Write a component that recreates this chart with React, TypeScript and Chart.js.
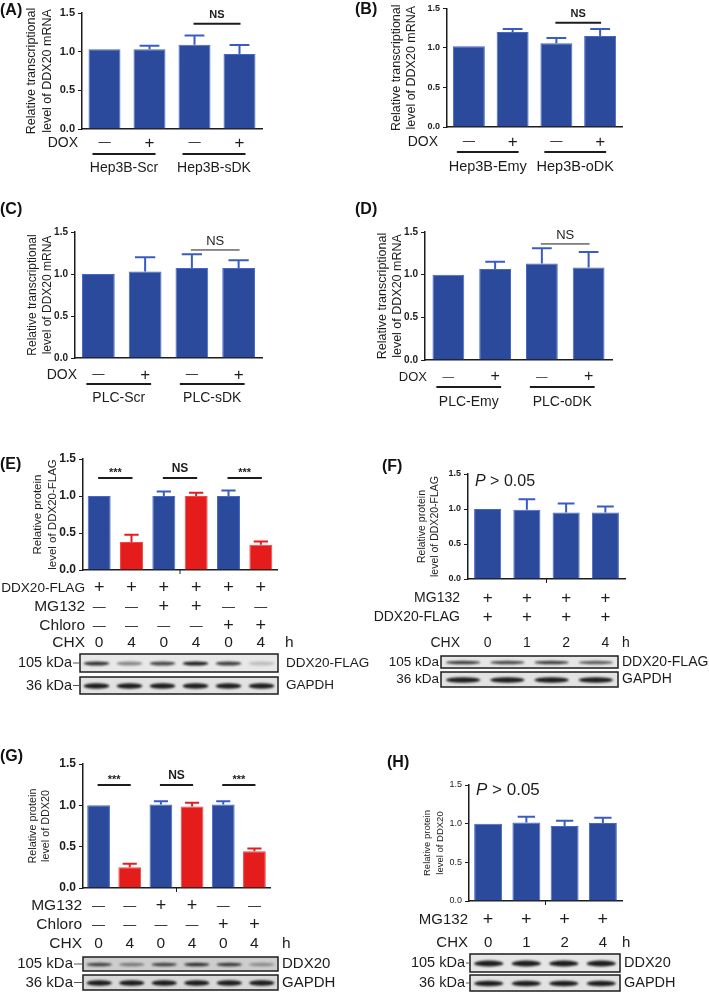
import { useEffect, useRef } from 'react';
import { Chart, registerables } from 'chart.js';

Chart.register(...registerables);

const FONT = '"Liberation Sans", Arial, Helvetica, sans-serif';
Chart.defaults.font.family = FONT;

const BLUE = '#2c4a9c';
const BLUE_EDGE = '#4368cc';
const BLUE_ERR = '#3a5cc2';
const RED = '#e41c1c';
const RED_EDGE = '#f24545';
const INK = '#1c1c1c';

// ---------------- data ----------------
// (A)
const catsA = ['Hep3B-Scr DOX−', 'Hep3B-Scr DOX+', 'Hep3B-sDK DOX−', 'Hep3B-sDK DOX+'];
const meanA = [1.03, 1.03, 1.09, 0.97];
const semA = [0, 0.045, 0.12, 0.115];
const doxA = ['−', '+', '−', '+'];
const groupsA = ['Hep3B-Scr', 'Hep3B-sDK'];
// (B)
const catsB = ['Hep3B-Emy DOX−', 'Hep3B-Emy DOX+', 'Hep3B-oDK DOX−', 'Hep3B-oDK DOX+'];
const meanB = [1.02, 1.2, 1.06, 1.15];
const semB = [0, 0.04, 0.065, 0.09];
const doxB = ['−', '+', '−', '+'];
const groupsB = ['Hep3B-Emy', 'Hep3B-oDK'];
// (C)
const catsC = ['PLC-Scr DOX−', 'PLC-Scr DOX+', 'PLC-sDK DOX−', 'PLC-sDK DOX+'];
const meanC = [1.0, 1.03, 1.07, 1.07];
const semC = [0, 0.17, 0.165, 0.095];
const doxC = ['−', '+', '−', '+'];
const groupsC = ['PLC-Scr', 'PLC-sDK'];
// (D)
const catsD = ['PLC-Emy DOX−', 'PLC-Emy DOX+', 'PLC-oDK DOX−', 'PLC-oDK DOX+'];
const meanD = [1.0, 1.065, 1.13, 1.085];
const semD = [0, 0.085, 0.18, 0.18];
const doxD = ['−', '+', '−', '+'];
const groupsD = ['PLC-Emy', 'PLC-oDK'];
// (E)
const catsE = ['CHX 0', 'CHX 4', 'MG132 CHX 0', 'MG132 CHX 4', 'Chloro CHX 0', 'Chloro CHX 4'];
const meanE = [1.0, 0.38, 1.0, 1.0, 1.0, 0.34];
const semE = [0, 0.095, 0.06, 0.045, 0.075, 0.045];
const flagE = ['+', '+', '+', '+', '+', '+'];
const mg132E = ['−', '−', '+', '+', '−', '−'];
const chloroE = ['−', '−', '−', '−', '+', '+'];
const chxE = ['0', '4', '0', '4', '0', '4'];
const bandDdxE = [0.85, 0.45, 0.75, 0.95, 0.8, 0.2];
const bandGapdhE = [0.95, 0.95, 0.95, 0.95, 0.95, 0.95];
// (F)
const catsF = ['CHX 0 h', 'CHX 1 h', 'CHX 2 h', 'CHX 4 h'];
const meanF = [1.0, 0.99, 0.95, 0.95];
const semF = [0, 0.15, 0.13, 0.085];
const mg132F = ['+', '+', '+', '+'];
const flagF = ['+', '+', '+', '+'];
const chxF = ['0', '1', '2', '4'];
const bandDdxF = [0.8, 0.75, 0.8, 0.65];
const bandGapdhF = [0.95, 0.95, 0.95, 0.95];
// (G)
const catsG = ['CHX 0', 'CHX 4', 'MG132 CHX 0', 'MG132 CHX 4', 'Chloro CHX 0', 'Chloro CHX 4'];
const meanG = [1.0, 0.25, 1.01, 0.985, 1.01, 0.445];
const semG = [0, 0.044, 0.04, 0.045, 0.04, 0.032];
const mg132G = ['−', '−', '+', '+', '−', '−'];
const chloroG = ['−', '−', '−', '−', '+', '+'];
const chxG = ['0', '4', '0', '4', '0', '4'];
const bandDdxG = [0.75, 0.45, 0.75, 0.85, 0.8, 0.35];
const bandGapdhG = [0.95, 0.95, 0.95, 0.95, 0.95, 0.95];
// (H)
const catsH = ['CHX 0 h', 'CHX 1 h', 'CHX 2 h', 'CHX 4 h'];
const meanH = [1.0, 1.015, 0.97, 1.01];
const semH = [0, 0.075, 0.068, 0.067];
const mg132H = ['+', '+', '+', '+'];
const chxH = ['0', '1', '2', '4'];
const bandDdxH = [0.95, 0.95, 0.95, 0.95];
const bandGapdhH = [0.95, 0.95, 0.95, 0.95];

const yTicks = [0, 0.5, 1.0, 1.5];

// ---------------- panel layout ----------------
const B4 = [BLUE, BLUE, BLUE, BLUE];
const BR6 = [BLUE, RED, BLUE, RED, BLUE, RED];

const panels: any[] = [
  {
    letter: '(A)', letterPos: [0, 11],
    box: [0, 0, 352, 180], axis: { l: 82, r: 262, t: 13, b: 129 },
    cats: catsA, mean: meanA, sem: semA, colors: B4, barPct: 0.71,
    title: ['Relative transcriptional', 'level of DDX20 mRNA'], titleSize: 12.5, titleLH: 16, titleX: 32,
    tick: { size: 11, weight: 'bold' },
    sig: [{ from: 2, to: 3, text: 'NS', at: 1.36, size: 11, weight: 'bold', lw: 2 }],
    rowSize: 14, signSize: 17, rowRight: 78,
    rows: [{ label: 'DOX', vals: doxA, y: 143 }],
    groups: { names: groupsA, lineY: 154, textY: 168, size: 14 },
  },
  {
    letter: '(B)', letterPos: [355, 10],
    box: [352, 0, 357, 180], axis: { l: 447, r: 622, t: 8, b: 127 },
    cats: catsB, mean: meanB, sem: semB, colors: B4, barPct: 0.73,
    title: ['Relative transcriptional', 'level of DDX20 mRNA'], titleSize: 12.5, titleLH: 15, titleX: 397,
    tick: { size: 9, weight: 'bold' },
    sig: [{ from: 2, to: 3, text: 'NS', at: 1.32, size: 11, weight: 'bold', lw: 2 }],
    rowSize: 14, signSize: 17, rowRight: 438,
    rows: [{ label: 'DOX', vals: doxB, y: 142 }],
    groups: { names: groupsB, lineY: 152, textY: 167, size: 14.5 },
  },
  {
    letter: '(C)', letterPos: [0, 210],
    box: [0, 180, 352, 230], axis: { l: 75, r: 262, t: 232, b: 358 },
    cats: catsC, mean: meanC, sem: semC, colors: B4, barPct: 0.7,
    title: ['Relative transcriptional', 'level of DDX20 mRNA'], titleSize: 12, titleLH: 15, titleX: 33,
    tick: { size: 10, weight: 'bold' },
    sig: [{ from: 2, to: 3, text: 'NS', at: 1.286, size: 13, weight: 'normal', lw: 1 }],
    rowSize: 14, signSize: 17, rowRight: 77,
    rows: [{ label: 'DOX', vals: doxC, y: 375 }],
    groups: { names: groupsC, lineY: 384, textY: 398, size: 14 },
  },
  {
    letter: '(D)', letterPos: [355, 210],
    box: [352, 180, 357, 230], axis: { l: 425, r: 612, t: 232, b: 360 },
    cats: catsD, mean: meanD, sem: semD, colors: B4, barPct: 0.68,
    title: ['Relative transcriptional', 'level of DDX20 mRNA'], titleSize: 12.5, titleLH: 15, titleX: 383,
    tick: { size: 10, weight: 'bold' },
    sig: [{ from: 2, to: 3, text: 'NS', at: 1.36, size: 13, weight: 'normal', lw: 1 }],
    rowSize: 13, signSize: 16, rowRight: 427,
    rows: [{ label: 'DOX', vals: doxD, y: 377 }],
    groups: { names: groupsD, lineY: 387, textY: 402, size: 14 },
  },
  {
    letter: '(E)', letterPos: [0, 465],
    box: [0, 410, 371, 290], axis: { l: 83, r: 277, t: 459, b: 570 },
    cats: catsE, mean: meanE, sem: semE, colors: BR6, barPct: 0.71,
    title: ['Relative protein', 'level of DDX20-FLAG'], titleSize: 11.5, titleLH: 15, titleX: 38,
    tick: { size: 12, weight: 'bold' },
    sig: [
      { from: 0, to: 1, text: '***', at: 1.243, size: 11, weight: 'bold', lw: 2 },
      { from: 2, to: 3, text: 'NS', at: 1.243, size: 12, weight: 'bold', lw: 2 },
      { from: 4, to: 5, text: '***', at: 1.243, size: 11, weight: 'bold', lw: 2 },
    ],
    centerTick: true,
    rowSize: 15.5, signSize: 18, rowRight: 85,
    rows: [
      { label: 'DDX20-FLAG', vals: flagE, y: 588, labelSize: 13.6 },
      { label: 'MG132', vals: mg132E, y: 607 },
      { label: 'Chloro', vals: chloroE, y: 626 },
      { label: 'CHX', vals: chxE, y: 643, unit: 'h', unitX: 285 },
    ],
    blots: {
      x0: 80, x1: 278, kdaRight: 72, nameX: 286, size: 14.5, nameSize: 13.5,
      lanes: [
        { kda: '105 kDa', name: 'DDX20-FLAG', y: 654, h: 18, bands: bandDdxE, thick: 4, bg: '#e8e8e8' },
        { kda: '36 kDa', name: 'GAPDH', y: 677, h: 17, bands: bandGapdhE, thick: 5.5, bg: '#e2e2e2' },
      ],
    },
  },
  {
    letter: '(F)', letterPos: [382, 467],
    box: [371, 410, 338, 290], axis: { l: 468, r: 625, t: 474, b: 579 },
    cats: catsF, mean: meanF, sem: semF, colors: B4, barPct: 0.69,
    title: ['Relative protein', 'level of DDX20-FLAG'], titleSize: 10.5, titleLH: 13.5, titleX: 422,
    tick: { size: 9, weight: 'bold' },
    sig: [],
    pText: { x: 475, y: 482, size: 16 },
    centerTick: true,
    rowSize: 14, signSize: 17, rowRight: 460,
    rows: [
      { label: 'MG132', vals: mg132F, y: 598 },
      { label: 'DDX20-FLAG', vals: flagF, y: 617 },
      { label: 'CHX', vals: chxF, y: 643, unit: 'h', unitX: 622 },
    ],
    blots: {
      x0: 441, x1: 618, kdaRight: 439, nameX: 622, size: 13.5, nameSize: 14,
      lanes: [
        { kda: '105 kDa', name: 'DDX20-FLAG', y: 656, h: 12, bands: bandDdxF, thick: 3.5, bg: '#e6e6e6' },
        { kda: '36 kDa', name: 'GAPDH', y: 672, h: 15, bands: bandGapdhF, thick: 5.5, bg: '#e2e2e2' },
      ],
    },
  },
  {
    letter: '(G)', letterPos: [0, 757],
    box: [0, 700, 365, 297], axis: { l: 83, r: 270, t: 764, b: 888 },
    cats: catsG, mean: meanG, sem: semG, colors: BR6, barPct: 0.73,
    title: ['Relative protein', 'level of DDX20'], titleSize: 10.8, titleLH: 13.5, titleX: 33,
    tick: { size: 12, weight: 'bold' },
    sig: [
      { from: 0, to: 1, text: '***', at: 1.245, size: 11, weight: 'bold', lw: 2 },
      { from: 2, to: 3, text: 'NS', at: 1.245, size: 12, weight: 'bold', lw: 2 },
      { from: 4, to: 5, text: '***', at: 1.245, size: 11, weight: 'bold', lw: 2 },
    ],
    centerTick: true,
    rowSize: 15.5, signSize: 18, rowRight: 82,
    rows: [
      { label: 'MG132', vals: mg132G, y: 906 },
      { label: 'Chloro', vals: chloroG, y: 925 },
      { label: 'CHX', vals: chxG, y: 944, unit: 'h', unitX: 282 },
    ],
    blots: {
      x0: 83, x1: 278, kdaRight: 73, nameX: 282, size: 15, nameSize: 15,
      lanes: [
        { kda: '105 kDa', name: 'DDX20', y: 957, h: 14, bands: bandDdxG, thick: 3.5, bg: '#cdcdcd' },
        { kda: '36 kDa', name: 'GAPDH', y: 975, h: 15, bands: bandGapdhG, thick: 5.5, bg: '#d8d8d8' },
      ],
    },
  },
  {
    letter: '(H)', letterPos: [387, 763],
    box: [365, 700, 344, 297], axis: { l: 469, r: 622, t: 785, b: 901 },
    cats: catsH, mean: meanH, sem: semH, colors: B4, barPct: 0.73,
    title: ['Relative protein', 'level of DDX20'], titleSize: 9.5, titleLH: 13, titleX: 427,
    tick: { size: 9, weight: 'normal' },
    sig: [],
    pText: { x: 476, y: 790, size: 17 },
    centerTick: true,
    rowSize: 15, signSize: 18, rowRight: 468,
    rows: [
      { label: 'MG132', vals: mg132H, y: 920 },
      { label: 'CHX', vals: chxH, y: 943, unit: 'h', unitX: 622 },
    ],
    blots: {
      x0: 470, x1: 620, kdaRight: 465, nameX: 624, size: 14.5, nameSize: 14.5,
      lanes: [
        { kda: '105 kDa', name: 'DDX20', y: 954, h: 18, bands: bandDdxH, thick: 6, bg: '#e6e6e6' },
        { kda: '36 kDa', name: 'GAPDH', y: 975, h: 16, bands: bandGapdhH, thick: 5.5, bg: '#e2e2e2' },
      ],
    },
  },
];

// ---------------- drawing helpers ----------------
function text(ctx: CanvasRenderingContext2D, s: string, x: number, y: number, font: string, align: CanvasTextAlign = 'left', color = INK) {
  ctx.font = font;
  ctx.textAlign = align;
  ctx.textBaseline = 'middle';
  ctx.fillStyle = color;
  ctx.fillText(s, x, y);
}

function makeExtras(p: any) {
  const ox = p.box[0];
  const oy = p.box[1];
  const X = (v: number) => v - ox;
  const Y = (v: number) => v - oy;
  return {
    id: 'extras',
    afterDatasetsDraw(chart: any) {
      const ctx: CanvasRenderingContext2D = chart.ctx;
      const yS = chart.scales.y;
      const meta = chart.getDatasetMeta(0);
      ctx.save();
      meta.data.forEach((el: any, i: number) => {
        const e = p.sem[i];
        if (!e) return;
        const top = yS.getPixelForValue(p.mean[i]);
        const tip = yS.getPixelForValue(p.mean[i] + e);
        const cap = el.width * 0.62;
        ctx.strokeStyle = p.colors[i] === RED ? RED : BLUE_ERR;
        ctx.lineWidth = 2;
        ctx.beginPath();
        ctx.moveTo(el.x, top);
        ctx.lineTo(el.x, tip);
        ctx.moveTo(el.x - cap / 2, tip);
        ctx.lineTo(el.x + cap / 2, tip);
        ctx.stroke();
      });
      ctx.restore();
    },
    afterDraw(chart: any) {
      const ctx: CanvasRenderingContext2D = chart.ctx;
      const xS = chart.scales.x;
      const yS = chart.scales.y;
      const area = chart.chartArea;
      const centers = p.mean.map((_: number, i: number) => xS.getPixelForValue(i));
      ctx.save();

      // panel letter
      text(ctx, p.letter, X(p.letterPos[0]), Y(p.letterPos[1]), `bold 16px ${FONT}`, 'left', '#111');

      // significance marks
      p.sig.forEach((s: any) => {
        const ly = yS.getPixelForValue(s.at);
        const x1 = centers[s.from] - 1;
        const x2 = centers[s.to] + 1;
        ctx.strokeStyle = INK;
        ctx.lineWidth = s.lw;
        ctx.beginPath();
        ctx.moveTo(x1, ly);
        ctx.lineTo(x2, ly);
        ctx.stroke();
        const dy = s.text === '***' ? -5 : -9;
        text(ctx, s.text, (x1 + x2) / 2, ly + dy, `${s.weight} ${s.size}px ${FONT}`, 'center', INK);
      });

      // P value text
      if (p.pText) {
        const t = p.pText;
        ctx.font = `italic ${t.size}px ${FONT}`;
        const w = ctx.measureText('P').width;
        text(ctx, 'P', X(t.x), Y(t.y), `italic ${t.size}px ${FONT}`, 'left', INK);
        text(ctx, ' > 0.05', X(t.x) + w, Y(t.y), `${t.size}px ${FONT}`, 'left', INK);
      }

      // small centre tick under x axis
      if (p.centerTick) {
        const cx = (area.left + area.right) / 2;
        ctx.strokeStyle = INK;
        ctx.lineWidth = 1;
        ctx.beginPath();
        ctx.moveTo(cx, area.bottom);
        ctx.lineTo(cx, area.bottom + 4);
        ctx.stroke();
      }

      // condition rows
      p.rows.forEach((r: any) => {
        const ry = Y(r.y);
        text(ctx, r.label, X(p.rowRight), ry, `${r.labelSize || p.rowSize}px ${FONT}`, 'right', INK);
        r.vals.forEach((v: string, i: number) => {
          if (v === '+') text(ctx, '+', centers[i], ry, `${p.signSize}px ${FONT}`, 'center', INK);
          else if (v === '−') text(ctx, '—', centers[i], ry, `${p.signSize * 0.72}px ${FONT}`, 'center', INK);
          else text(ctx, v, centers[i], ry, `${p.rowSize}px ${FONT}`, 'center', INK);
        });
        if (r.unit) text(ctx, r.unit, X(r.unitX), ry, `${p.rowSize}px ${FONT}`, 'left', INK);
      });

      // group labels
      if (p.groups) {
        const g = p.groups;
        g.names.forEach((name: string, k: number) => {
          const a = centers[2 * k] - 12;
          const b = centers[2 * k + 1] + 6;
          ctx.strokeStyle = INK;
          ctx.lineWidth = 1.8;
          ctx.beginPath();
          ctx.moveTo(a, Y(g.lineY));
          ctx.lineTo(b, Y(g.lineY));
          ctx.stroke();
          text(ctx, name, (a + b) / 2, Y(g.textY), `${g.size}px ${FONT}`, 'center', INK);
        });
      }

      // western blots (lanes evenly spaced across the blot frame)
      if (p.blots) {
        const bl = p.blots;
        const x0 = X(bl.x0);
        const x1 = X(bl.x1);
        const n = p.mean.length;
        const laneW = (x1 - x0) / n;
        bl.lanes.forEach((ln: any) => {
          const y0 = Y(ln.y);
          const cy = y0 + ln.h / 2;
          ctx.fillStyle = ln.bg;
          ctx.fillRect(x0, y0, x1 - x0, ln.h);
          ctx.save();
          ctx.beginPath();
          ctx.rect(x0, y0, x1 - x0, ln.h);
          ctx.clip();
          ctx.filter = 'blur(1.1px)';
          ln.bands.forEach((a: number, i: number) => {
            const bw = laneW * 0.78;
            const bx = x0 + (i + 0.5) * laneW;
            ctx.fillStyle = `rgba(18,18,18,${a})`;
            ctx.beginPath();
            ctx.ellipse(bx, cy + 0.5, bw / 2, ln.thick / 2, 0, 0, Math.PI * 2);
            ctx.fill();
          });
          ctx.restore();
          ctx.strokeStyle = INK;
          ctx.lineWidth = 1.5;
          ctx.strokeRect(x0, y0, x1 - x0, ln.h);
          // kDa marker
          text(ctx, ln.kda, X(bl.kdaRight), cy, `${bl.size}px ${FONT}`, 'right', INK);
          ctx.strokeStyle = '#555';
          ctx.lineWidth = 1;
          ctx.beginPath();
          ctx.moveTo(X(bl.kdaRight) + 1, cy);
          ctx.lineTo(x0, cy);
          ctx.stroke();
          text(ctx, ln.name, X(bl.nameX), cy, `${bl.nameSize}px ${FONT}`, 'left', INK);
        });
      }
      ctx.restore();
    },
  };
}

function buildConfig(p: any): any {
  const [bx, by, bw, bh] = p.box;
  const a = p.axis;
  return {
    type: 'bar',
    data: {
      labels: p.cats,
      datasets: [
        {
          data: p.mean,
          backgroundColor: p.colors,
          borderColor: p.colors.map((c: string) => (c === RED ? RED_EDGE : BLUE_EDGE)),
          borderWidth: 1,
          barPercentage: p.barPct,
          categoryPercentage: 1,
        },
      ],
    },
    options: {
      animation: false,
      responsive: false,
      maintainAspectRatio: false,
      layout: {
        autoPadding: false,
        padding: { left: 0, top: a.t - by, right: bx + bw - a.r, bottom: by + bh - a.b },
      },
      plugins: { legend: { display: false }, tooltip: { enabled: false } },
      scales: {
        x: {
          type: 'category',
          grid: { display: false, drawTicks: false },
          ticks: { display: false },
          border: { display: true, color: INK, width: 1.5 },
          afterFit: (s: any) => {
            s.height = 0;
          },
        },
        y: {
          min: 0,
          max: 1.5,
          afterBuildTicks: (s: any) => {
            s.ticks = yTicks.map((v) => ({ value: v }));
          },
          ticks: {
            callback: (v: any) => Number(v).toFixed(1),
            font: { size: p.tick.size, weight: p.tick.weight, family: FONT },
            color: INK,
            padding: 3,
          },
          grid: { display: true, drawOnChartArea: false, drawTicks: true, tickLength: 4, color: INK, lineWidth: 1 },
          border: { display: true, color: INK, width: 1.5 },
          title: {
            display: true,
            text: p.title,
            color: INK,
            font: { size: p.titleSize, family: FONT, lineHeight: p.titleLH / p.titleSize },
            padding: { top: p.titleX - bx - p.titleLH / 2, bottom: 0 },
          },
          afterFit: (s: any) => {
            s.width = a.l - bx;
          },
        },
      },
    },
    plugins: [makeExtras(p)],
  };
}

function Panel({ p }: { p: any }) {
  const ref = useRef<HTMLCanvasElement>(null);
  useEffect(() => {
    if (!ref.current) return;
    const chart = new Chart(ref.current, buildConfig(p));
    return () => chart.destroy();
  }, [p]);
  const [x, y, w, h] = p.box;
  return (
    <canvas
      ref={ref}
      width={w}
      height={h}
      style={{ position: 'absolute', left: x, top: y, width: w, height: h, display: 'block' }}
    />
  );
}

export default function App() {
  return (
    <div style={{ position: 'absolute', left: 0, top: 0, width: 709, height: 997, background: '#fff', overflow: 'hidden' }}>
      {panels.map((p) => (
        <Panel key={p.letter} p={p} />
      ))}
    </div>
  );
}
